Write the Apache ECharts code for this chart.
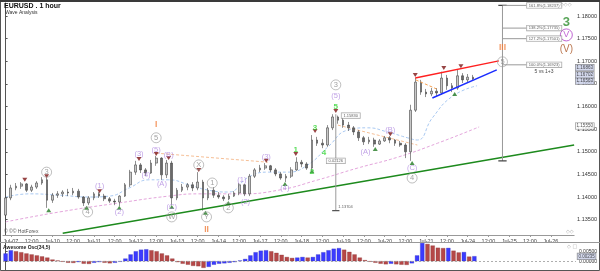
<!DOCTYPE html>
<html><head><meta charset="utf-8">
<script src="https://cdn.jsdelivr.net/npm/echarts/dist/echarts.min.js"></script>
<style>html,body{margin:0;padding:0;background:#fff}#c{width:600px;height:271px}</style>
</head><body><div id="c"></div>
<script>
const FONT = 'Liberation Sans, Arial, sans-serif';
const tickLabels = ['Jul-07','12:00','Jul-10','12:00','Jul-11','12:00','Jul-12','12:00','Jul-13','12:00','Jul-14','12:00','Jul-17','12:00','Jul-18','12:00','Jul-19','12:00','Jul-20','12:00','Jul-21','12:00','Jul-24','12:00','Jul-25','12:00','Jul-26'];
// 3-hour candles: [open, close, low, high]
const candles = [
[1.1360,1.1398,1.1345,1.1402],[1.1398,1.1420,1.1393,1.1427],[1.1420,1.1424,1.1415,1.1431],[1.1424,1.1429,1.1418,1.1433],[1.1429,1.1415,1.1411,1.1431],
[1.1415,1.1422,1.1411,1.1427],[1.1422,1.1431,1.1418,1.1435],[1.1431,1.1438,1.1427,1.1444],[1.1438,1.1393,1.1376,1.1442],[1.1393,1.1404,1.1387,1.1409],
[1.1404,1.1407,1.1398,1.1413],[1.1407,1.1411,1.1400,1.1415],[1.1411,1.1409,1.1402,1.1418],[1.1409,1.1413,1.1404,1.1420],[1.1413,1.1400,1.1396,1.1418],
[1.1400,1.1387,1.1380,1.1402],[1.1387,1.1398,1.1382,1.1402],[1.1398,1.1407,1.1393,1.1411],[1.1407,1.1402,1.1398,1.1411],[1.1402,1.1396,1.1391,1.1407],
[1.1396,1.1391,1.1387,1.1400],[1.1391,1.1389,1.1382,1.1396],[1.1389,1.1402,1.1380,1.1404],[1.1402,1.1427,1.1400,1.1431],[1.1427,1.1455,1.1422,1.1460],
[1.1455,1.1471,1.1449,1.1480],[1.1471,1.1460,1.1453,1.1475],[1.1460,1.1453,1.1446,1.1464],[1.1453,1.1475,1.1451,1.1482],[1.1475,1.1486,1.1469,1.1491],
[1.1486,1.1449,1.1438,1.1488],[1.1449,1.1475,1.1442,1.1482],[1.1475,1.1398,1.1382,1.1480],[1.1398,1.1415,1.1393,1.1420],[1.1415,1.1422,1.1411,1.1429],
[1.1422,1.1427,1.1415,1.1431],[1.1427,1.1420,1.1413,1.1433],[1.1420,1.1433,1.1415,1.1455],[1.1433,1.1398,1.1370,1.1438],[1.1398,1.1415,1.1393,1.1420],
[1.1415,1.1404,1.1398,1.1422],[1.1404,1.1400,1.1396,1.1411],[1.1400,1.1396,1.1391,1.1404],[1.1396,1.1402,1.1393,1.1407],[1.1402,1.1409,1.1400,1.1413],
[1.1409,1.1427,1.1404,1.1431],[1.1427,1.1407,1.1402,1.1429],[1.1407,1.1446,1.1402,1.1451],[1.1446,1.1460,1.1442,1.1464],[1.1460,1.1464,1.1455,1.1471],
[1.1464,1.1469,1.1460,1.1475],[1.1469,1.1460,1.1455,1.1471],[1.1460,1.1451,1.1446,1.1464],[1.1451,1.1442,1.1438,1.1455],[1.1442,1.1446,1.1433,1.1451],
[1.1446,1.1460,1.1442,1.1466],[1.1460,1.1477,1.1458,1.1488],[1.1477,1.1473,1.1466,1.1482],[1.1473,1.1464,1.1460,1.1477],[1.1464,1.1526,1.1460,1.1537],
[1.1526,1.1519,1.1513,1.1533],[1.1519,1.1515,1.1508,1.1528],[1.1515,1.1553,1.1511,1.1559],[1.1553,1.1577,1.1548,1.1583],[1.1577,1.1570,1.1562,1.1580],
[1.1570,1.1559,1.1553,1.1575],[1.1559,1.1553,1.1546,1.1566],[1.1553,1.1544,1.1537,1.1557],[1.1544,1.1531,1.1524,1.1548],[1.1531,1.1522,1.1515,1.1535],
[1.1522,1.1526,1.1517,1.1533],[1.1526,1.1517,1.1511,1.1531],[1.1517,1.1524,1.1515,1.1528],[1.1524,1.1531,1.1522,1.1535],[1.1531,1.1526,1.1519,1.1535],
[1.1526,1.1519,1.1513,1.1528],[1.1519,1.1515,1.1511,1.1524],[1.1515,1.1500,1.1486,1.1519],[1.1500,1.1592,1.1480,1.1604],[1.1592,1.1654,1.1588,1.1663],
[1.1654,1.1632,1.1626,1.1659],[1.1632,1.1628,1.1621,1.1639],[1.1628,1.1634,1.1623,1.1641],[1.1634,1.1630,1.1623,1.1641],[1.1630,1.1663,1.1626,1.1677],
[1.1663,1.1646,1.1637,1.1670],[1.1646,1.1641,1.1632,1.1652],[1.1641,1.1668,1.1637,1.1681],[1.1668,1.1659,1.1652,1.1674],[1.1659,1.1665,1.1654,1.1672],
[1.1665,1.1661,1.1657,1.1670]];
const aoValues = [0.0039,0.0055,0.0050,0.0045,0.0039,0.0034,0.0029,0.0024,0.0018,0.0008,
 0.0003,-0.0003,-0.0008,-0.0009,-0.0005,-0.0013,-0.0014,-0.0008,-0.0005,-0.0008,
 -0.0011,-0.0008,-0.0003,0.0013,0.0034,0.0050,0.0058,0.0060,0.0055,0.0050,
 0.0039,0.0029,0.0013,-0.0005,-0.0013,-0.0018,-0.0024,-0.0026,-0.0034,-0.0029,
 -0.0018,-0.0013,-0.0011,-0.0008,-0.0005,0.0003,0.0011,0.0029,0.0045,0.0053,
 0.0055,0.0050,0.0042,0.0032,0.0021,0.0016,0.0018,0.0021,0.0018,0.0021,
 0.0034,0.0045,0.0055,0.0063,0.0066,0.0058,0.0047,0.0034,0.0018,0.0005,
 -0.0003,-0.0008,-0.0013,-0.0016,-0.0013,-0.0016,-0.0018,-0.0019,-0.0011,0.0029,
 0.0092,0.0087,0.0079,0.0068,0.0066,0.0067,0.0053,0.0044,0.0046,0.0023,0.0025];
const maFast = [[0,1.1400],[4.7,1.1407],[10.4,1.1404],[16.1,1.1400],[20,1.1402],[23.8,1.1420],[27.6,1.1438],[31.4,1.1438],[35.3,1.1427],[39.1,1.1415],[42.9,1.1411],[46.8,1.1444],[50.6,1.1455],[54.4,1.1455],[58.2,1.1471],[62.1,1.1511],[65.9,1.1548],[69.7,1.1553],[73.5,1.1544],[77.4,1.1531],[79.3,1.1526],[82.2,1.1575],[86.1,1.1623],[90.8,1.1646]];
const maSlow = [[0,1.1345],[10.4,1.1367],[21.9,1.1387],[31.4,1.1402],[37.2,1.1407],[44.9,1.1407],[52.5,1.1415],[60.2,1.1438],[67.8,1.1464],[75.5,1.1488],[83.2,1.1519],[91.2,1.1555]];
const greenTrend = [[11,1.1320],[109.5,1.1515]];
const redTrend = [[78.9,1.1663],[95.0,1.1701]];
const blueTrend = [[82.2,1.1619],[94.6,1.1681]];
const peachLines = [[[29,1.1497],[50.5,1.1477]],[[64,1.1559],[79.3,1.1515]]];
const orangeLines = [[[79,1.1659],[83,1.1639]]];
const measureLine = [[63.6,1.1583],[63.6,1.1370]];
const fibBase = 1.14797, fibTop = 1.18237;
const fibLevels = [['161.8%',1.18237],['138.2%',1.17735],['127.2%',1.17501],['100.0%',1.16923]];
const circled = [['3',7.9,1.1455],['4',15.8,1.1367],['5',29,1.1531],['W',32,1.1356],['X',37.2,1.1471],['Y',38.7,1.1356],['1',39.8,1.1431],['2',42.9,1.1376],['3',63.6,1.1648],['4',78.3,1.1442],['5',95.7,1.1699]];
const purple = [['(1)',18.1,1.1424],['(2)',21.9,1.1367],['(3)',25.7,1.1495],['(4)',27.05,1.1449],['(5)',29,1.1504],['(A)',30.1,1.1429],['(B)',31.4,1.1493],['(C)',32,1.1378],['(1)',45.5,1.1438],['(2)',46.2,1.1389],['(3)',50.2,1.1488],['(4)',53.8,1.1420],['(5)',63.6,1.1623],['(A)',69.3,1.1500],['(B)',74.1,1.1548],['(C)',78.3,1.1464]];
const green = [['1',55.9,1.1504],['2',59,1.1455],['3',59.6,1.1553],['4',61.3,1.1497],['5',63.6,1.1599]];
const orange = [['I',29,1.1559],['II',38.7,1.1327],['III',95.7,1.1730]];
const topMarks = [[3.7,1.1438],[7.9,1.1446],[18.1,1.1413],[25.7,1.1484],[29,1.1495],[31.4,1.1486],[37.2,1.1460],[50.2,1.1480],[55.9,1.1495],[59.6,1.1546],[63.6,1.1590],[74.1,1.1539],[78.9,1.1670],[84.4,1.1685],[87.7,1.1689]];
const lowMarks = [[8.3,1.1371],[15.6,1.1376],[21.9,1.1376],[32,1.1378],[38.5,1.1365],[42.9,1.1387],[53.8,1.1429],[59,1.1457],[71.2,1.1506],[78.3,1.1475],[86.5,1.1628]];
const priceBoxes = [['1.16863',1.1686,'#c9cfe9'],['1.16702',1.1670,'#c9cfe9'],['1.16563',1.1656,'#c9cfe9'],['1.15550',1.1557,'#ffffff']];
const aoBox = ['0.00235',0.0024];

const N = 110;
const categories = Array.from({length:N},(_,i)=> (i>=1 && (i-1)%4===0 && (i-1)/4 < tickLabels.length) ? tickLabels[(i-1)/4] : '');
const tickOn = (i)=> categories[i] !== '';

function labels(items, o){
  return {type:'scatter', xAxisIndex:1, yAxisIndex:0, silent:true, z:o.z||20, clip:false, animation:false,
    symbol:o.symbol||'circle', symbolSize:o.size||1, symbolRotate:o.rot||0,
    itemStyle:o.item||{color:'rgba(0,0,0,0)'},
    data:items.map(d=>({name:d[0], value:[d[1],d[2]]})),
    label:Object.assign({show:true, position:o.pos||'inside', formatter:'{b}', color:o.color, fontSize:o.fs, fontWeight:o.fw||'normal', fontFamily:FONT}, o.label||{})};
}
function seg(pts, color, width, type, z){
  return {type:'line', xAxisIndex:1, yAxisIndex:0, data:pts, symbol:'none', silent:true, z:z||5, animation:false,
    lineStyle:{color:color, width:width, type:type||'solid'}};
}
function marks(pts, color, rot){
  return {type:'scatter', xAxisIndex:1, yAxisIndex:0, silent:true, z:15, animation:false, symbol:'triangle', symbolSize:[5,4], symbolRotate:rot,
    itemStyle:{color:color}, data:pts};
}

const series = [];
series.push(seg(maSlow,'#e4a6dc',1,[3,2],4));
series[series.length-1].smooth = true;
series.push(seg(maFast,'#a9c9f2',1,[3,2],4));
series[series.length-1].smooth = true;
series.push({type:'candlestick', xAxisIndex:0, yAxisIndex:0, data:candles, barWidth:2.2, animation:false, silent:true, z:6,
  itemStyle:{color:'#c8c8c8', color0:'#6a6a6a', borderColor:'#444', borderColor0:'#444', borderWidth:0.6}});
series.push(seg(greenTrend,'#1d8a1d',1.5,'solid',7));
series.push(seg(redTrend,'#ff2020',1.5,'solid',7));
series.push(seg(blueTrend,'#1a2cff',1.5,'solid',7));
peachLines.forEach(p=>series.push(seg(p,'#f6bf96',1,[3,2],4)));
orangeLines.forEach(p=>series.push(seg(p,'#f5a050',1,[3,2],8)));
series.push(seg(measureLine,'#9a9a9a',1,'solid',8));
series.push(seg([[62.9,1.1370],[64.3,1.1370]],'#555',1.2,'solid',8));
series.push(seg([[95.7,fibBase],[95.7,fibTop]],'#999',1,'solid',8));
series.push(seg([[94.9,fibBase],[96.5,fibBase]],'#444',1.2,'solid',8));
series.push(seg([[94.9,fibTop],[96.5,fibTop]],'#444',1.2,'solid',8));
fibLevels.forEach(f=>series.push(seg([[95.7,f[1]],[100.3,f[1]]],'#999',1,'solid',8)));
series.push(marks(topMarks,'#7d1515',180));
series.push(marks(lowMarks,'#237a23',0));
const boxLbl = {backgroundColor:'#fff', borderColor:'#888', borderWidth:0.6, padding:[1,2,0,2]};
series.push(labels(fibLevels.map(f=>[f[0]+'('+f[1].toFixed(5)+')',100.3,f[1]]),{pos:'right',color:'#333',fs:4,label:Object.assign({distance:0},boxLbl)}));
series.push(labels([['0.02126',63.6,1.1480]],{color:'#333',fs:4,label:boxLbl}));
series.push(labels([['1.15830',64.6,1.1580]],{pos:'right',color:'#333',fs:4,label:Object.assign({distance:0},boxLbl)}));
series.push(labels([['1.13704',63.8,1.1378]],{pos:'right',color:'#333',fs:4,label:{distance:1}}));
series.push(labels([['5 vs 1+3',103.7,1.1677]],{color:'#111',fs:5}));
series.push(labels(circled,{size:10,item:{color:'rgba(255,255,255,0)',borderColor:'#9a9a9a',borderWidth:0.8},color:'#8a8a8a',fs:7.5}));
series.push(labels(purple,{color:'#b08ae0',fs:7.5}));
series.push(labels(green,{color:'#33d433',fs:8,fw:'bold'}));
series.push(labels(orange,{color:'#f07d3a',fs:8.5,fw:'bold'}));
series.push(labels([['3',108,1.17855]],{color:'#2f8f2f',fs:13,fw:'bold'}));
series.push(labels([['V',108,1.17584]],{size:12,item:{color:'rgba(255,255,255,0)',borderColor:'#b040c8',borderWidth:1},color:'#b040c8',fs:9}));
series.push(labels([['(V)',108,1.17274]],{color:'#a8501e',fs:10}));
series.push(labels(priceBoxes.map(b=>[b[0],109.5,b[1]]),{pos:'right',color:'#222',fs:4.5,label:{distance:1,borderColor:'#777',borderWidth:0.6,padding:[1,1,0,1],backgroundColor:'#fff'}}));
series[series.length-1].data.forEach((d,i)=>{d.label={backgroundColor:priceBoxes[i][2]};});
series.push({type:'bar', xAxisIndex:2, yAxisIndex:1, animation:false, silent:true, barWidth:'80%',
  data:aoValues.map((v,i)=>({value:v, itemStyle:{color:(i===0||v>=aoValues[i-1])?'#3b3bff':'#b54848', borderColor:(i===0||v>=aoValues[i-1])?'#2a2ab0':'#803030', borderWidth:0.3}})),
  markLine:{silent:true, symbol:['none','none'], label:{show:false}, lineStyle:{type:[2,2], color:'#999', width:0.8}, data:[{yAxis:0}]}});
series.push({type:'scatter', xAxisIndex:3, yAxisIndex:1, silent:true, clip:false, animation:false, symbolSize:1, itemStyle:{color:'rgba(0,0,0,0)'},
  data:[{name:aoBox[0], value:[109.5,aoBox[1]]}],
  label:{show:true, position:'right', distance:1, formatter:'{b}', fontSize:4.5, color:'#222', fontFamily:FONT, backgroundColor:'#c9cfe9', borderColor:'#777', borderWidth:0.6, padding:[1,1,0,1]}});

const chart = echarts.init(document.getElementById('c'), null, {renderer:'canvas'});
chart.setOption({
  animation:false,
  backgroundColor:'#fff',
  textStyle:{fontFamily:FONT},
  grid:[{left:3,right:22,top:3,bottom:36},{left:3,right:22,top:243,height:28}],
  xAxis:[
    {type:'category', gridIndex:0, data:categories, boundaryGap:true,
      axisLine:{lineStyle:{color:'#999',width:1}},
      axisTick:{show:true, interval:tickOn, length:2, lineStyle:{color:'#999'}, alignWithLabel:true},
      axisLabel:{interval:tickOn, fontSize:5.5, color:'#444', margin:3}, splitLine:{show:false}},
    {type:'value', gridIndex:0, min:-0.5, max:N-0.5, show:false},
    {type:'category', gridIndex:1, data:categories, boundaryGap:true, show:false},
    {type:'value', gridIndex:1, min:-0.5, max:N-0.5, show:false}
  ],
  yAxis:[
    {type:'value', gridIndex:0, position:'right', min:1.1316, max:1.1829, splitNumber:10, scale:true,
      splitLine:{show:false}, axisLine:{show:true, lineStyle:{color:'#555'}}, axisTick:{show:true,length:2,lineStyle:{color:'#555'}},
      axisLabel:{fontSize:5.5, color:'#333', margin:3, showMinLabel:false, showMaxLabel:false, formatter:v=>v.toFixed(5)}},
    {type:'value', gridIndex:1, position:'right', min:-0.005, max:0.0092, interval:0.005,
      splitLine:{show:false}, axisLine:{show:true, lineStyle:{color:'#555'}}, axisTick:{show:true,length:2,lineStyle:{color:'#555'}},
      axisLabel:{fontSize:5, color:'#333', margin:3, showMinLabel:false, showMaxLabel:false, formatter:v=>v.toFixed(5)}}
  ],
  series:series,
  graphic:[
    {type:'rect', shape:{x:0.5,y:0.5,width:599,height:270}, style:{fill:'none', stroke:'#555', lineWidth:1}, z:100, silent:true},
    {type:'rect', shape:{x:0,y:0,width:600,height:2}, style:{fill:'#3a3a3a'}, z:100, silent:true},
    {type:'line', shape:{x1:0,y1:242.5,x2:600,y2:242.5}, style:{stroke:'#999', lineWidth:1}, z:100, silent:true},
    {type:'text', left:4, top:3, style:{text:'EURUSD . 1 hour', fontSize:7, fontWeight:'bold', fontFamily:FONT, fill:'#111'}, z:100},
    {type:'text', left:5, top:10, style:{text:'Wave Analysis', fontSize:5, fontFamily:FONT, fill:'#333'}, z:100},
    {type:'text', left:4, top:229, style:{text:'\u00a9 \u00a9\u00a9 HotForex', fontSize:5, fontFamily:FONT, fill:'#555'}, z:100},
    {type:'text', left:3, top:245, style:{text:'Awesome Osc(34,5)', fontSize:5, fontWeight:'bold', fontFamily:FONT, fill:'#222'}, z:100},
    {type:'text', left:560, top:2, style:{text:'\u25c7\u25c7\u25c7', fontSize:5, fontFamily:'DejaVu Sans', fill:'#aaa'}, z:100},
    {type:'text', left:566, top:229, style:{text:'\u25c7\u25c7', fontSize:5, fontFamily:'DejaVu Sans', fill:'#aaa'}, z:100},
    {type:'text', left:567, top:244, style:{text:'\u25c7 \u25a1', fontSize:5, fontFamily:'DejaVu Sans', fill:'#aaa'}, z:100}
  ]
});
</script>
</body></html>
